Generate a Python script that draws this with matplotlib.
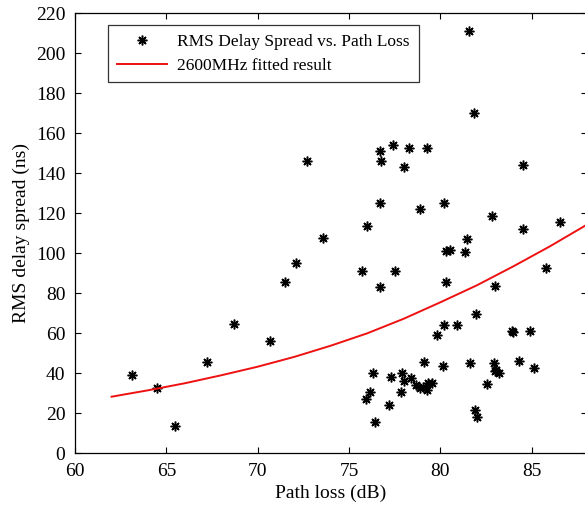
import matplotlib
matplotlib.use('Agg')
import matplotlib.pyplot as plt

path_loss = [63.1, 64.5, 65.5, 67.2, 68.7, 70.7, 71.5, 72.1, 72.7, 73.6,
             75.7, 75.95, 76.0, 76.15, 76.3, 76.4, 76.7, 76.7, 76.75, 76.7,
             77.2, 77.3, 77.4, 77.5, 77.85, 77.9, 78.0, 78.0, 78.3, 78.4,
             78.65, 78.9, 78.9, 79.05, 79.1, 79.25, 79.25, 79.3, 79.55, 79.8,
             80.15, 80.2, 80.2, 80.3, 80.3, 80.55, 80.9, 81.35, 81.45, 81.55,
             81.65, 81.85, 81.9, 82.0, 81.97, 82.55, 82.8, 82.95, 83.0, 83.05,
             83.2, 83.0, 83.9, 83.95, 84.3, 84.55, 84.55, 84.9, 85.15, 85.8,
             86.55]
delay_spread = [39.2, 32.5, 13.8, 45.8, 64.6, 56.1, 85.8, 95.3, 146.3, 107.8,
                91.1, 27.2, 113.8, 30.5, 40.3, 15.8, 151.1, 125.3, 146.0, 83.3,
                24.2, 38.3, 154.2, 91.1, 30.5, 40.3, 143.0, 36.2, 152.8, 37.8,
                34.0, 122.3, 32.5, 33.0, 45.8, 31.7, 152.8, 35.0, 35.0, 59.2,
                43.8, 125.3, 64.0, 85.8, 101.3, 101.5, 64.0, 100.8, 107.2, 211.3,
                45.0, 170.3, 21.7, 18.3, 69.8, 34.6, 118.5, 45.0, 83.8, 41.6,
                40.3, 41.0, 61.2, 60.6, 46.3, 144.3, 112.3, 61.3, 42.8, 92.5,
                115.5]

# fitted curve
fit_x = [62, 64, 66, 68, 70, 72, 74, 76, 78, 80, 82, 84, 86, 88]
fit_y = [28.3, 31.5, 35.0, 39.0, 43.3, 48.2, 53.8, 60.0, 67.3, 75.5,
         84.0, 93.5, 103.5, 114.2]

plt.rcParams['font.family'] = ['Liberation Serif', 'DejaVu Serif']

fig = plt.figure(figsize=(5.85, 5.05), dpi=100)
ax = fig.add_axes([75/585, 1-453.3/505, 511.5/585, 440/505])

ax.plot(path_loss, delay_spread, linestyle='none', marker=(8, 2, 0),
        markersize=7, markeredgewidth=1.1, color='black',
        label='RMS Delay Spread vs. Path Loss')
ax.plot(fit_x, fit_y, color='#ee1111', linewidth=1.4,
        label='2600MHz fitted result')

ax.set_xlim(60, 88)
ax.set_ylim(0, 220)
ax.set_xticks([60, 65, 70, 75, 80, 85])
ax.set_yticks(range(0, 221, 20))
ax.tick_params(direction='in', top=True, right=True, length=4,
               labelsize=14, width=0.8, pad=7)
for s in ax.spines.values():
    s.set_linewidth(0.9)

ax.set_xlabel('Path loss (dB)', fontsize=14, labelpad=3)
ax.set_ylabel('RMS delay spread (ns)', fontsize=14, labelpad=4)

leg = ax.legend(loc='upper left', bbox_to_anchor=(0.0645, 0.9734),
                borderaxespad=0, fontsize=12.5, frameon=True, fancybox=False,
                edgecolor='black', handlelength=2.9, labelspacing=0.45,
                borderpad=0.5, handletextpad=0.6)
leg.get_frame().set_linewidth(0.9)
# the original box has extra room on the right
fr = leg.get_frame()
fig.canvas.draw()
fr.set_width(fr.get_width() + 13)

fig.savefig('out.png', dpi=100)
